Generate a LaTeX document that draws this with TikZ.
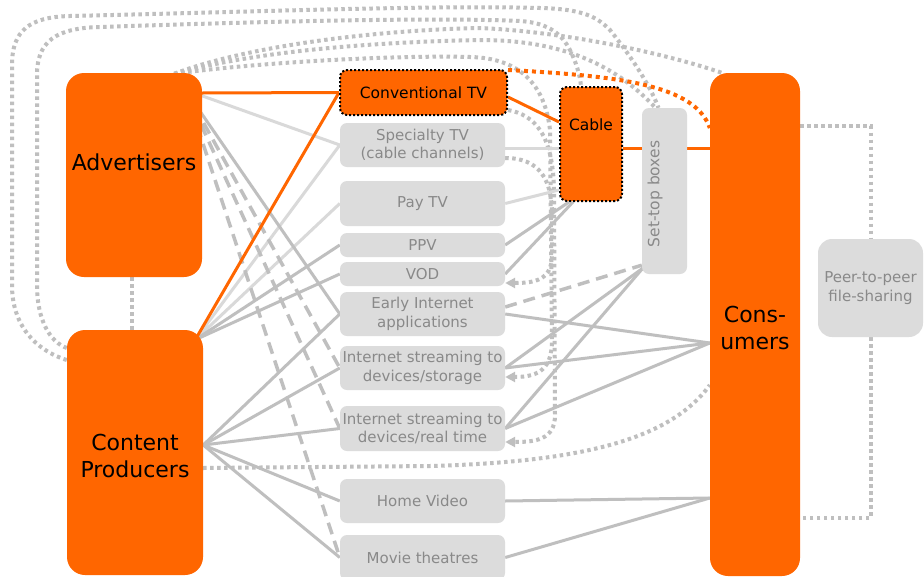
\documentclass[tikz,border=0pt]{standalone}
\usepackage{fontspec}
\setmainfont{DejaVu Sans}
\usetikzlibrary{arrows.meta,backgrounds,calc}
\definecolor{hot}{RGB}{255,102,0}
\definecolor{boxgray}{RGB}{220,220,220}
\definecolor{txtgray}{RGB}{137,137,137}
\definecolor{wire}{RGB}{191,191,191}
\definecolor{wirelt}{RGB}{217,217,217}

\begin{document}
\begin{tikzpicture}[x=1pt,y=-1pt,
  bigbox/.style={fill=hot, rounded corners=18pt, inner sep=0pt},
  bigtext/.style={font=\fontsize{22}{27}\selectfont, align=center},
  chan/.style={fill=boxgray, rounded corners=7pt, inner sep=0pt, minimum width=165pt,
    text=txtgray, font=\fontsize{15}{18.5}\selectfont, align=center},
  hotdotted/.style={fill=hot, draw=black, line width=2pt, dash pattern=on 2pt off 2pt,
    rounded corners=7pt, inner sep=0pt, font=\fontsize{15.5}{18}\selectfont},
  wirelight/.style={draw=wirelt, line width=3pt},
  wiremid/.style={draw=wire, line width=3pt},
  wiredash/.style={draw=wire, line width=3.5pt, dash pattern=on 12pt off 7pt},
  wiredot/.style={draw=wire, line width=4pt, dash pattern=on 3.5pt off 3.5pt},
  wirehot/.style={draw=hot, line width=3pt},
  arrowend/.style={-{Triangle[length=10pt,width=10pt]}},
]
\useasboundingbox (0,0) rectangle (924,576);

% ---- players ----
\node[bigbox, minimum width=136pt, minimum height=204pt] (adv) at (134,175) {};
\node[bigtext] (advlbl) at (134,162) {Advertisers};
\node[bigbox, minimum width=136pt, minimum height=245pt] (cp) at (135,452.5) {};
\node[bigtext] (cplbl) at (135,456) {Content\\Producers};
\node[bigbox, minimum width=90pt, minimum height=503pt] (cons) at (755,324.5) {};
\node[bigtext] (conslbl) at (755,328) {Cons-\\umers};

% ---- channels ----
\node[hotdotted, minimum width=167pt, minimum height=45pt] (conv) at (423.5,92.5) {Conventional TV};
\node[chan, minimum height=44pt] (spec) at (422.5,145) {Specialty TV\\(cable channels)};
\node[chan, minimum height=45pt] (pay) at (422.5,203.5) {Pay TV};
\node[chan, minimum height=24pt] (ppv) at (422.5,245) {PPV};
\node[chan, minimum height=24pt] (vod) at (422.5,274) {VOD};
\node[chan, minimum height=44pt] (early) at (422.5,314) {Early Internet\\applications};
\node[chan, minimum height=44pt] (stor) at (422.5,368) {Internet streaming to\\devices/storage};
\node[chan, minimum height=45pt] (real) at (422.5,428.5) {Internet streaming to\\devices/real time};
\node[chan, minimum height=44pt] (home) at (422.5,501) {Home Video};
\node[chan, minimum height=45pt] (movie) at (422.5,557.5) {Movie theatres};

\node[hotdotted, minimum width=62pt, minimum height=114pt] (cable) at (591,144) {};
\node[font=\fontsize{15.5}{18}\selectfont] (cablelbl) at (591,125) {Cable};

\node[fill=boxgray, rounded corners=7pt, inner sep=0pt, minimum width=45pt, minimum height=166pt] (stb) at (664.5,191) {};
\node[rotate=90, text=txtgray, font=\fontsize{15.5}{18}\selectfont] (stblbl) at (655,194) {Set-top boxes};

\node[fill=boxgray, rounded corners=14pt, inner sep=0pt, minimum width=105pt, minimum height=98pt,
  text=txtgray, font=\fontsize{15}{18.5}\selectfont, align=center] (p2p) at (870.5,288) {Peer-to-peer\\file-sharing};

% ---- connectors ----
\begin{scope}[on background layer]
\fill[white] (0,0) rectangle (924,576);

\coordinate (advhub) at ($(adv.north east)+(-17,17)$);
\coordinate (advtop) at ($(adv.north east)+(-28,1)$);
\coordinate (cptop) at ($(cp.north east)+(-8,10)$);
\coordinate (cpmid) at (cp.east|-0,445);
\coordinate (stbhub) at ($(stb.south west)+(1,-6)$);
\coordinate (consup) at (cons.west|-0,343);
\coordinate (conslow) at (cons.west|-0,498);

% dotted loops over the top
\draw[wiredot] (cp.west|-0,360) .. controls (35,350) and (12,325) .. (12,285) -- (12,65)
  .. controls (12,30) and (30,17) .. (70,16) .. controls (250,12) and (430,5) .. (540,8)
  .. controls (585,9) and (598,18) .. (610,30) .. controls (630,55) and (650,85) .. ([xshift=-6pt]stb.north);
\draw[wiredot] (cp.west|-0,348) .. controls (50,342) and (37,320) .. (37,285) -- (37,75)
  .. controls (37,42) and (55,28) .. (100,27) .. controls (250,22) and (430,17) .. (520,21)
  .. controls (550,23) and (562,35) .. (570,50) .. controls (576,62) and (580,75) .. ([xshift=-10pt]cable.north);
\draw[wiredot] (advtop) .. controls (250,45) and (380,30) .. (480,28)
  .. controls (570,32) and (670,55) .. ([xshift=12pt]cons.north west);
\draw[wiredot] (advtop) .. controls (260,50) and (380,42) .. (480,40)
  .. controls (570,40) and (620,70) .. ([xshift=-9pt]stb.north);
\draw[wiredot, arrowend] (advtop) .. controls (260,62) and (400,55) .. (470,57)
  .. controls (520,58) and (545,85) .. (550,130) -- (552,340)
  .. controls (552,368) and (540,377) .. (stor.east|-0,377);
\draw[wiredot, arrowend] ($(conv.south east)+(0,-6)$) .. controls (535,115) and (553,135) .. (554,190)
  -- (555,415) .. controls (555,440) and (535,442) .. (real.east|-0,442);
\draw[wiredot, arrowend] (spec.east|-0,158) .. controls (540,158) and (552,180) .. (552,215)
  -- (552,255) .. controls (552,280) and (535,283) .. (vod.east|-0,283);
\draw[wiredot] ($(adv.south)+(-2,0)$) -- ($(cp.north)+(-3,0)$);
\draw[wiredot] (cp.east|-0,468) -- (430,466) .. controls (580,462) and (670,440) .. (cons.west|-0,385);
\draw[wiredot] (cons.east|-0,126) -| (p2p.north);
\draw[wiredot] (p2p.south) |- (cons.east|-0,518);
\draw[wiredot, draw=hot, line width=4pt, dash pattern=on 4pt off 4pt]
  ($(conv.north east)+(0,1)$) .. controls (620,76) and (695,85) .. (cons.west|-0,128);

% light feeds
\draw[wirelight] (advhub) -- (spec.west);
\draw[wirelight] (cptop) -- (spec.west);
\draw[wirelight] (cptop) -- (pay.west);
\draw[wirelight] (spec.east|-0,148) -- (cable.west|-0,148);
\draw[wirelight] (pay.east) -- (cable.west|-0,190);

% grey feeds
\draw[wiremid] (advhub) -- (early.west);
\draw[wiremid] (cptop) -- (ppv.west);
\draw[wiremid] (cptop) -- (vod.west);
\foreach \t in {early,stor,real,home,movie} \draw[wiremid] (cpmid) -- (\t.west);
\draw[wiremid] (ppv.east) -- ($(cable.south west)+(10,0)$);
\draw[wiremid] (vod.east) -- ($(cable.south west)+(14,0)$);
\draw[wiremid] (stbhub) -- (stor.east);
\draw[wiremid] (stbhub) -- (real.east);
\draw[wiremid] (consup) -- (early.east);
\draw[wiremid] (consup) -- (stor.east);
\draw[wiremid] (consup) -- (real.east);
\draw[wiremid] (conslow) -- (home.east);
\draw[wiremid] (conslow) -- (movie.east);

% dashed links
\draw[wiredash] (advhub) -- (stor.west);
\draw[wiredash] (advhub) -- (real.west);
\draw[wiredash] (advhub) -- (movie.west);
\draw[wiredash] (early.east|-0,307) -- ($(stb.south west)+(0,-9)$);

% orange links
\draw[wirehot] (adv.east|-0,93) -- (conv.west);
\draw[wirehot] (cptop) -- (conv.west);
\draw[wirehot] (conv.east|-0,97) -- (cable.west|-0,122);
\draw[wirehot] (cable.east|-0,148) -- (cons.west|-0,148);
\end{scope}
\end{tikzpicture}
\end{document}
